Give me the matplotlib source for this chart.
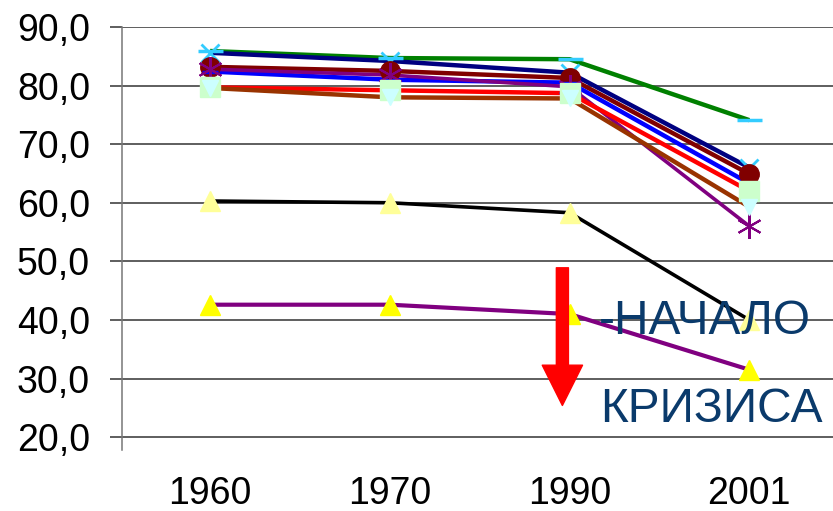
import matplotlib
matplotlib.use("Agg")
import matplotlib.pyplot as plt

plt.rcParams['font.family'] = ['Liberation Sans', 'DejaVu Sans']

years = ["1960", "1970", "1990", "2001"]
y_ticks = [20, 30, 40, 50, 60, 70, 80, 90]

green_s = [85.9, 84.7, 84.5, 74.1]
navy_s = [85.6, 84.2, 82.2, 66.0]
darkred_s = [83.2, 82.5, 81.3, 64.9]
blue_s = [82.4, 81.0, 80.5, 63.3]
purple_s = [82.8, 81.8, 79.8, 56.0]
red_s = [79.7, 79.2, 78.7, 62.0]
brown_s = [79.6, 78.0, 77.8, 59.3]
black_s = [60.3, 60.0, 58.3, 40.0]
violet_s = [42.6, 42.6, 41.0, 31.5]

# (values, line colour, line width, marker, marker face, marker edge, marker size, edge width)
series = [
    (green_s, "#008000", 3.2, "_", "#33CCFF", "#33CCFF", 18, 2.5),
    (navy_s, "#000080", 3.2, "x", "#33CCFF", "#33CCFF", 13, 2.0),
    (darkred_s, "#800000", 3.2, "o", "#800000", "#800000", 14, 1.0),
    (blue_s, "#0000FF", 3.2, "_", "#0000FF", "#0000FF", 12, 2.5),
    (purple_s, "#800080", 2.6, (6, 2, 0), "#800080", "#800080", 18, 1.5),
    (red_s, "#FF0000", 3.2, "s", "#CCFFCC", "#CCFFCC", 14, 1.0),
    (brown_s, "#993300", 3.2, "v", "#CCFFFF", "#CCFFFF", 12, 1.0),
    (black_s, "#000000", 2.6, "^", "#FFFF99", "#FFFF99", 15, 1.0),
    (violet_s, "#800080", 3.0, "^", "#FFFF00", "#FFFF00", 15, 1.0),
]

fig = plt.figure(figsize=(8.33, 5.11), dpi=100)
W, H = 833, 511
left, right, top, bottom = 122, 841, 27, 450
ax = fig.add_axes([left / W, 1 - bottom / H, (right - left) / W, (bottom - top) / H])

x = list(range(len(years)))
for vals, lc, lw, *_ in series:
    ax.plot(x, vals, color=lc, lw=lw, solid_capstyle="butt", zorder=3)
for vals, lc, lw, mk, mf, me, ms, mw in series:
    ax.plot(x, vals, ls="none", marker=mk, mfc=mf, mec=me, ms=ms, mew=mw, zorder=4,
            clip_on=False)

ax.set_xlim(-0.49, 3.51)
ax.set_ylim(17.8, 90)
ax.set_yticks(y_ticks)
ax.set_yticklabels([f"{v},0" for v in y_ticks])
ax.set_xticks(x)
ax.set_xticklabels(years)
ax.yaxis.grid(True, color="#333333", lw=1.1)
ax.set_axisbelow(True)
ax.tick_params(axis="y", length=9, width=1.1, color="#333333", pad=14, labelsize=27)
ax.tick_params(axis="x", length=0, pad=19, labelsize=27)
for s in ["top", "right", "bottom"]:
    ax.spines[s].set_visible(False)
ax.spines["left"].set_color("#777777")
ax.spines["left"].set_linewidth(1.1)

# red arrow marking the crisis
ax.annotate("", xy=(1.96, 25.4), xytext=(1.96, 48.9),
            arrowprops=dict(arrowstyle="simple,head_length=1.0,head_width=1.0,tail_width=0.3",
                            mutation_scale=29, color="#FF0000", shrinkA=0, shrinkB=0),
            zorder=5)

fig.text(599 / W, 1 - 322 / H, "-НАЧАЛО", color="#0A3A6B", fontsize=34.5,
         ha="left", va="center")
fig.text(600 / W, 1 - 410 / H, "КРИЗИСА", color="#0A3A6B", fontsize=34.5,
         ha="left", va="center")

fig.savefig("out.png", dpi=100)
